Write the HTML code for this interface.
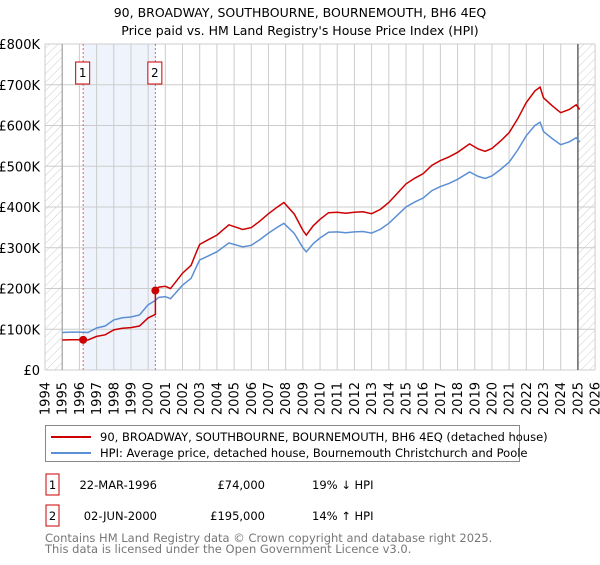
<!DOCTYPE html>
<html><head><meta charset="utf-8"><style>
body{margin:0;background:#fff;font-family:"Liberation Sans","DejaVu Sans",sans-serif}
svg text{font-family:"DejaVu Sans","Liberation Sans",sans-serif}
</style></head><body>
<svg id="c" width="600" height="560" xmlns="http://www.w3.org/2000/svg">
<defs><pattern id="h" width="6" height="6" patternUnits="userSpaceOnUse" patternTransform="rotate(45)"><line x1="0" y1="0" x2="0" y2="6" stroke="#ccc" stroke-width="1"/></pattern></defs>
<text x="300" y="17" text-anchor="middle" font-size="12.5">90, BROADWAY, SOUTHBOURNE, BOURNEMOUTH, BH6 4EQ</text>
<text x="300" y="35" text-anchor="middle" font-size="12.5">Price paid vs. HM Land Registry's House Price Index (HPI)</text>
<g id="plot"></g>
<g>
<rect x="45.5" y="425.5" width="474" height="36" fill="#fff" stroke="#888"/>
<line x1="51" y1="437" x2="91" y2="437" stroke="#cc0000" stroke-width="2"/>
<text x="100" y="441" font-size="11.5">90, BROADWAY, SOUTHBOURNE, BOURNEMOUTH, BH6 4EQ (detached house)</text>
<line x1="51" y1="453" x2="91" y2="453" stroke="#5b8fd4" stroke-width="2"/>
<text x="100" y="457" font-size="11.5">HPI: Average price, detached house, Bournemouth Christchurch and Poole</text>
</g>
<g font-size="11.5">
<rect x="46" y="474" width="13" height="21" fill="#fff" stroke="#cc0000"/><text x="52.5" y="489" text-anchor="middle">1</text>
<text x="157" y="489" text-anchor="end">22-MAR-1996</text><text x="265" y="489" text-anchor="end">£74,000</text><text x="312" y="489">19% ↓ HPI</text>
<rect x="46" y="505" width="13" height="21" fill="#fff" stroke="#cc0000"/><text x="52.5" y="520" text-anchor="middle">2</text>
<text x="157" y="520" text-anchor="end">02-JUN-2000</text><text x="265" y="520" text-anchor="end">£195,000</text><text x="312" y="520">14% ↑ HPI</text>
</g>
<text x="45" y="542" font-size="11.5" fill="#777">Contains HM Land Registry data © Crown copyright and database right 2025.</text>
<text x="45" y="553" font-size="11.5" fill="#777">This data is licensed under the Open Government Licence v3.0.</text>
</svg>
<script>
const hpiYears=[1995,1995.5,1996,1996.5,1997,1997.5,1998,1998.5,1999,1999.5,2000,2000.4,2000.6,2001,2001.3,2002,2002.5,2002.8,2003,2003.5,2004,2004.7,2005.5,2006,2006.5,2007,2007.5,2007.9,2008.5,2009,2009.2,2009.6,2010,2010.5,2011,2011.5,2012,2012.5,2013,2013.5,2014,2014.5,2015,2015.5,2016,2016.5,2017,2017.5,2018,2018.7,2019.2,2019.6,2020,2020.5,2021,2021.5,2022,2022.5,2022.8,2023,2023.5,2024,2024.5,2024.9,2025.1];
const hpiValues=[92,93,93,92,103,108,123,128,130,135,160,170,178,180,175,208,225,253,270,280,290,312,302,306,320,336,350,360,335,300,290,310,324,338,339,337,339,340,336,345,360,380,400,412,422,440,450,458,468,486,475,470,476,492,510,540,575,600,608,585,568,553,560,570,560];
const saleYears=[1996.22,2000.42];
const salePrices=[74,195];
const yTicks=[0,100,200,300,400,500,600,700,800];
const yTickLabels=["£0","£100K","£200K","£300K","£400K","£500K","£600K","£700K","£800K"];
const xTicks=[1994,1995,1996,1997,1998,1999,2000,2001,2002,2003,2004,2005,2006,2007,2008,2009,2010,2011,2012,2013,2014,2015,2016,2017,2018,2019,2020,2021,2022,2023,2024,2025,2026];
const NS="http://www.w3.org/2000/svg";
const X=y=>45+(y-1994)*17.19, Y=v=>370-v*0.4075;
const g=document.getElementById('plot');
function mk(t,a,p){const e=document.createElementNS(NS,t);for(const k in a)e.setAttribute(k,a[k]);(p||g).appendChild(e);return e;}
function hpiAt(t){for(let i=0;i<hpiYears.length-1;i++){if(t<=hpiYears[i+1]){const f=(t-hpiYears[i])/(hpiYears[i+1]-hpiYears[i]);return hpiValues[i]+f*(hpiValues[i+1]-hpiValues[i]);}}return hpiValues[hpiValues.length-1];}
let r=mk('rect',{x:X(saleYears[0]),y:Y(800),width:X(saleYears[1])-X(saleYears[0]),height:Y(0)-Y(800),fill:'#eef3fc'});


r=mk('rect',{x:X(1994),y:Y(800),width:X(1995)-X(1994),height:Y(0)-Y(800),fill:'url(#h)'});


r=mk('rect',{x:X(2025),y:Y(800),width:X(2026)-X(2025),height:Y(0)-Y(800),fill:'url(#h)'});


yTicks.forEach((v,i)=>{mk('line',{x1:X(1994),x2:X(2026),y1:Y(v),y2:Y(v),stroke:'#ccc'});
const t=mk('text',{x:40,y:Y(v)+5,'text-anchor':'end','font-size':'13'});t.textContent=yTickLabels[i];

});
xTicks.forEach(yr=>{mk('line',{x1:X(yr),x2:X(yr),y1:Y(800),y2:Y(0),stroke:'#ccc'});
const t=mk('text',{x:0,y:0,'text-anchor':'end','font-size':'13',transform:'translate('+(X(yr)+4.5).toFixed(1)+',382) rotate(-90)'});t.textContent=yr;

});
mk('line',{x1:X(1995),x2:X(1995),y1:Y(800),y2:Y(0),stroke:'#999'});
mk('line',{x1:X(2025),x2:X(2025),y1:Y(800),y2:Y(0),stroke:'#666','stroke-width':1.5});
saleYears.forEach((s,i)=>{const l=mk('line',{x1:X(s),x2:X(s),y1:Y(800),y2:Y(0),stroke:'#e06666','stroke-dasharray':'2,2'});


const b=mk('rect',{x:X(s)-7.5,y:62,width:14,height:22,fill:'#fff',stroke:'#cc0000'});


const t=mk('text',{x:X(s)-0.5,y:77,'text-anchor':'middle','font-size':'12'});t.textContent=i+1;});
const hp=mk('path',{d:hpiYears.map((y,i)=>(i?'L':'M')+X(y).toFixed(1)+','+Y(hpiValues[i]).toFixed(1)).join(''),fill:'none',stroke:'#5b8fd4','stroke-width':1.5});


const r1=salePrices[0]/hpiAt(saleYears[0]), r2=salePrices[1]/hpiAt(saleYears[1]);
let pts=[];
hpiYears.forEach((y,i)=>{if(y<saleYears[1])pts.push([y,hpiValues[i]*r1]);});
pts.push([saleYears[1],hpiAt(saleYears[1])*r1]);pts.push([saleYears[1],salePrices[1]]);
hpiYears.forEach((y,i)=>{if(y>saleYears[1])pts.push([y,hpiValues[i]*r2]);});
const pp=mk('path',{d:pts.map((p,i)=>(i?'L':'M')+X(p[0]).toFixed(1)+','+Y(p[1]).toFixed(1)).join(''),fill:'none',stroke:'#cc0000','stroke-width':1.5});


saleYears.forEach((s,i)=>{const c=mk('circle',{cx:X(s),cy:Y(salePrices[i]),r:4,fill:'#cc0000'});

});
</script>
</body></html>
